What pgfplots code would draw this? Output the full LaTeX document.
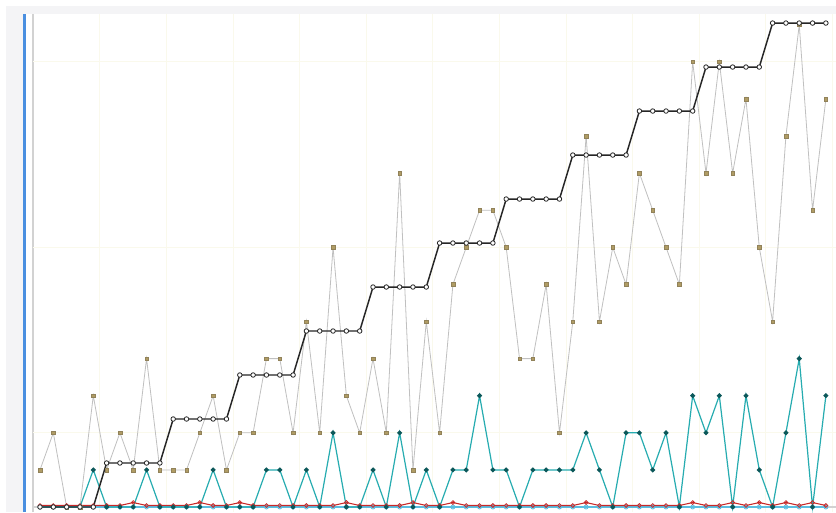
\documentclass[border=0pt]{standalone}
\usepackage{pgfplots}
\usepackage{pgfplotstable}
\pgfplotsset{compat=1.18}
\definecolor{bandgray}{RGB}{244,244,246}
\definecolor{leftblue}{RGB}{74,143,224}
\definecolor{axgray}{RGB}{210,210,210}
\definecolor{gridc}{RGB}{250,249,236}
\definecolor{tanline}{RGB}{192,192,192}
\definecolor{tanfill}{RGB}{176,156,100}
\definecolor{tandraw}{RGB}{145,130,90}
\definecolor{tealline}{RGB}{38,172,176}
\definecolor{tealmark}{RGB}{12,88,90}
\definecolor{redline}{RGB}{200,40,40}
\definecolor{blueline}{RGB}{90,190,225}
\pgfplotstableread{
x black tan teal red blue
0 0 1 0 0.04 0
1 0 2 0 0.04 0
2 0 0 0 0.04 0
3 0 0 0 0.04 0
4 0 3 1 0.04 0
5 1.186 1 0 0.04 0
6 1.186 2 0 0.04 0
7 1.186 1 0 0.12 0
8 1.186 4 1 0.04 0
9 1.186 1 0 0.04 0
10 2.372 1 0 0.04 0
11 2.372 1 0 0.04 0
12 2.372 2 0 0.12 0
13 2.372 3 1 0.04 0
14 2.372 1 0 0.04 0
15 3.558 2 0 0.12 0
16 3.558 2 0 0.04 0
17 3.558 4 1 0.04 0
18 3.558 4 1 0.04 0
19 3.558 2 0 0.04 0
20 4.744 5 1 0.04 0
21 4.744 2 0 0.04 0
22 4.744 7 2 0.04 0
23 4.744 3 0 0.12 0
24 4.744 2 0 0.04 0
25 5.93 4 1 0.04 0
26 5.93 2 0 0.04 0
27 5.93 9 2 0.04 0
28 5.93 1 0 0.12 0
29 5.93 5 1 0.04 0
30 7.116 2 0 0.04 0
31 7.116 6 1 0.12 0
32 7.116 7 1 0.04 0
33 7.116 8 3 0.04 0
34 7.116 8 1 0.04 0
35 8.302 7 1 0.04 0
36 8.302 4 0 0.04 0
37 8.302 4 1 0.04 0
38 8.302 6 1 0.04 0
39 8.302 2 1 0.04 0
40 9.488 5 1 0.04 0
41 9.488 10 2 0.12 0
42 9.488 5 1 0.04 0
43 9.488 7 0 0.04 0
44 9.488 6 2 0.04 0
45 10.674 9 2 0.04 0
46 10.674 8 1 0.04 0
47 10.674 7 2 0.04 0
48 10.674 6 0 0.04 0
49 10.674 12 3 0.12 0
50 11.86 9 2 0.04 0
51 11.86 12 3 0.04 0
52 11.86 9 0 0.12 0
53 11.86 11 3 0.04 0
54 11.86 7 1 0.12 0
55 13.046 5 0 0.04 0
56 13.046 10 2 0.12 0
57 13.046 13 4 0.04 0
58 13.046 8 0 0.12 0
59 13.046 11 3 0.04 0
}\datatable
\begin{document}
\begin{tikzpicture}
\useasboundingbox (0,0) rectangle (627pt,384pt);
\fill[white] (0,0) rectangle (627pt,384pt);
\fill[bandgray] (4.5pt,373.5pt) rectangle (627pt,379.5pt);
\fill[bandgray] (4.5pt,0pt) rectangle (17pt,379.5pt);
\draw[leftblue, line width=1.9pt] (18.4pt,0pt) -- (18.4pt,373.5pt);
\draw[axgray, line width=0.8pt] (24.75pt,0pt) -- (24.75pt,373.5pt);
\begin{axis}[
  at={(24.75pt,0pt)}, anchor=south west,
  scale only axis, width=602.25pt, height=373.5pt,
  xmin=-0.526, xmax=59.76, ymin=-0.135, ymax=13.29,
  axis line style={draw=none},
  xtick={4.5,9.5,...,59.5}, ytick={2,7,12},
  xticklabels={}, yticklabels={},
  major tick length=0pt,
  grid=major, grid style={gridc, line width=0.8pt},
  clip=false,
]
\draw[axgray, line width=0.8pt] (axis cs:-0.526,0) -- (axis cs:59.76,0);
\addplot[tanline, line width=0.6pt, mark=square*, mark size=1.35pt,
  mark options={fill=tanfill, draw=tandraw, line width=0.3pt}] table[x=x,y=tan]{\datatable};
\addplot[blueline, line width=0.8pt, mark=o, mark size=1.5pt,
  mark options={draw=blueline, fill=white, line width=0.6pt}] table[x=x,y=blue]{\datatable};
\addplot[redline, line width=0.8pt, mark=o, mark size=1.4pt,
  mark options={draw=redline, line width=0.6pt}] table[x=x,y=red]{\datatable};
\addplot[tealline, line width=0.9pt, mark=*, mark size=1.35pt,
  mark options={fill=tealmark, draw=tealmark}] table[x=x,y=teal]{\datatable};
\addplot[black!85, line width=1.1pt, mark=*, mark size=1.7pt,
  mark options={fill=white, draw=black!85, line width=0.6pt}] table[x=x,y=black]{\datatable};
\end{axis}
\end{tikzpicture}
\end{document}
